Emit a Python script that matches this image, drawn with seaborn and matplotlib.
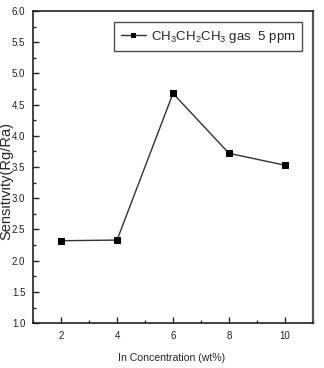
import matplotlib
matplotlib.use("Agg")
import matplotlib.pyplot as plt
import seaborn as sns
import pandas as pd
from matplotlib.ticker import MultipleLocator, FormatStrFormatter

concentration = [2, 4, 6, 8, 10]
sensitivity = [2.32, 2.33, 4.68, 3.72, 3.53]
series_label = r'$\mathregular{CH_3CH_2CH_3}$ gas  5 ppm'

sns.set_style("ticks")
plt.rcParams['font.family'] = ['Liberation Sans', 'DejaVu Sans']

df = pd.DataFrame({'x': concentration, 'y': sensitivity})

fig = plt.figure(figsize=(3.24, 3.68), dpi=100)
ax = fig.add_axes([0.102, 0.122, 0.864, 0.848])
sns.lineplot(data=df, x='x', y='y', ax=ax, marker='s', color='#333333',
             markersize=4.5, linewidth=1.0, markeredgecolor='black',
             markerfacecolor='black', label=series_label)

ax.set_xlim(1, 11)
ax.set_ylim(1.0, 6.0)
ax.xaxis.set_major_locator(MultipleLocator(2))
ax.xaxis.set_minor_locator(MultipleLocator(1))
ax.yaxis.set_major_locator(MultipleLocator(0.5))
ax.yaxis.set_minor_locator(MultipleLocator(0.25))
ax.tick_params(which='both', direction='in', labelsize=7, colors='#222222', width=1, pad=5.5)
ax.tick_params(which='major', length=4)
ax.tick_params(which='minor', length=2)
ax.xaxis.set_major_formatter(FormatStrFormatter('%d'))
ax.yaxis.set_major_formatter(FormatStrFormatter('%.1f'))
for s in ax.spines.values():
    s.set_linewidth(1.2)
    s.set_color('#222222')
    s.set_visible(True)
ax.spines['right'].set_color('#555555')
ax.spines['right'].set_linewidth(1.6)

ax.set_xlabel('In Concentration (wt%)', fontsize=7.6)
ax.set_ylabel('Sensitivity(Rg/Ra)', fontsize=10.5)
ax.xaxis.set_label_coords(0.496, -0.096)
ax.xaxis.label.set_va('top')
ax.yaxis.set_label_coords(-0.071, 0.455)

leg = ax.legend(loc='upper right', bbox_to_anchor=(0.962, 0.965), fontsize=9.5,
                frameon=True, fancybox=False, edgecolor='#222222',
                handlelength=1.9, borderpad=0.5, handletextpad=0.4,
                borderaxespad=0, markerscale=0.7)
leg.get_frame().set_linewidth(1.0)

fig.savefig('out.png', dpi=100)
